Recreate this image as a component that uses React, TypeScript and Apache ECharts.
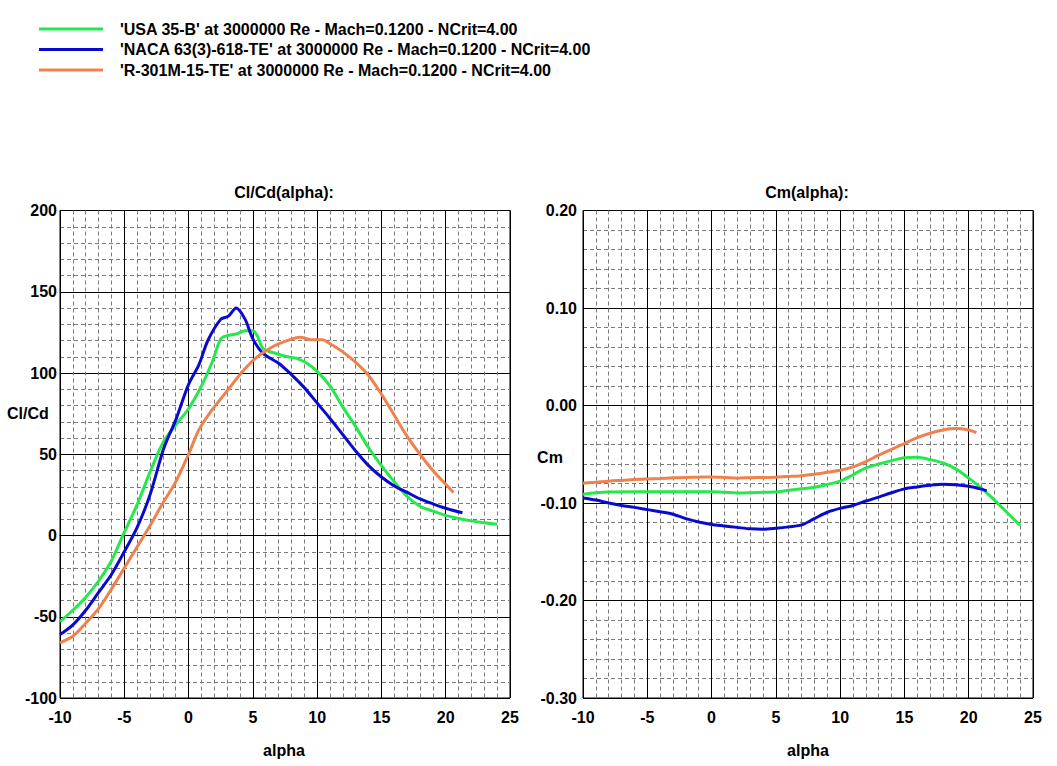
import React, { useEffect, useRef } from "react";
import * as echarts from "echarts";

const seriesNames = [
  "'USA 35-B' at 3000000 Re - Mach=0.1200 - NCrit=4.00",
  "'NACA 63(3)-618-TE' at 3000000 Re - Mach=0.1200 - NCrit=4.00",
  "'R-301M-15-TE' at 3000000 Re - Mach=0.1200 - NCrit=4.00",
];
const seriesColors = ["#24E84C", "#0A0ACF", "#F0814C"];

// Cl/Cd vs alpha
const alphaClCdUSA = [-10, -9, -8, -7, -6, -5, -4, -3, -2, -1, 0, 1, 1.8, 2.5, 3, 3.7, 4.4, 5, 5.4, 5.8, 6.8, 7.7, 8.4, 9.2, 10, 11, 12, 13, 14, 15, 16, 17, 18, 19, 20, 21, 22, 23, 24];
const clcdUSA = [-53, -46, -38, -28, -15.5, 2, 19, 39, 57, 68, 78, 92, 106, 121, 123, 124, 126, 126, 122, 115, 112, 110, 109, 106, 101, 92, 79, 67, 54, 43, 33, 24, 18, 15, 12.4, 10.5, 9, 7.8, 6.9];

const alphaClCdNACA = [-10, -9, -8, -7, -6, -5, -4, -3, -2, -1.5, -1, 0, 0.8, 1.5, 2.5, 3.1, 3.7, 4.4, 5, 5.8, 7, 8, 9, 10, 11, 12, 13, 14, 15, 16, 17, 18, 19, 20, 21.3];
const clcdNACA = [-61, -55, -46, -35, -24, -10, 5, 25, 52, 62, 71, 93, 105, 120, 133, 135, 140, 133, 121, 112, 106, 99, 91, 81.5, 72, 62, 52, 43, 36, 30.5, 26.5, 22.5, 19.5, 16.8, 14];

const alphaClCdR301 = [-10, -9, -8, -7, -6, -5, -4, -3, -2, -1, 0, 0.8, 1.8, 3.1, 4.1, 5.2, 6.5, 7.5, 8.7, 9.5, 10.4, 11, 12, 13, 14, 15, 16, 17, 18, 19, 20, 20.6];
const clcdR301 = [-66, -62, -54, -45, -33, -20, -7, 6, 20, 33, 50, 65, 77, 90, 100, 109, 116, 119.5, 122, 120.5, 120.5, 118, 113, 106.5, 98.5, 87, 74, 61, 50, 40, 31.5, 26.5];

// Cm vs alpha
const alphaCmUSA = [-10, -9, -8, -6, -4, -2, 0, 1, 2, 3, 4, 5, 6, 7, 8, 9, 10, 11, 12, 13, 14, 15, 16, 17, 18, 19, 20, 21, 22, 23, 24];
const cmUSA = [-0.091, -0.0895, -0.0888, -0.0885, -0.0885, -0.0885, -0.0885, -0.089, -0.0898, -0.0895, -0.089, -0.0888, -0.087, -0.0855, -0.0838, -0.081, -0.0775, -0.071, -0.064, -0.06, -0.0565, -0.0535, -0.053, -0.0555, -0.059, -0.065, -0.0745, -0.085, -0.097, -0.11, -0.123];

const alphaCmNACA = [-10, -9, -8, -7, -6, -5, -4, -3, -2, -1, 0, 1, 2, 3, 4, 5, 6, 7, 8, 9, 10, 11, 12, 13, 14, 15, 16, 17, 18, 19, 20, 21, 21.4];
const cmNACA = [-0.0949, -0.097, -0.1, -0.1025, -0.1045, -0.1068, -0.109, -0.1115, -0.116, -0.1195, -0.122, -0.1235, -0.125, -0.1265, -0.127, -0.126, -0.1245, -0.1225, -0.116, -0.1095, -0.1055, -0.1025, -0.098, -0.094, -0.0895, -0.0855, -0.0835, -0.0818, -0.0808, -0.0812, -0.0828, -0.0858, -0.0875];

const alphaCmR301 = [-10, -9, -8, -7, -6, -5, -4, -3, -2, -1, 0, 1, 2, 3, 4, 5, 6, 7, 8, 9, 10, 11, 12, 13, 14, 15, 16, 17, 18, 19, 20, 20.6];
const cmR301 = [-0.0797, -0.0788, -0.0776, -0.0768, -0.076, -0.0753, -0.0748, -0.0742, -0.0738, -0.0735, -0.0733, -0.0738, -0.0745, -0.074, -0.0738, -0.0735, -0.0728, -0.072, -0.0705, -0.0685, -0.0665, -0.063, -0.0575, -0.051, -0.045, -0.039, -0.033, -0.0285, -0.0252, -0.0237, -0.0252, -0.0278];

const zip = (xs: number[], ys: number[]) => xs.map((x, i) => [x, ys[i]]);

const FONT = "'Liberation Sans', Arial, sans-serif";

export default function App() {
  const ref = useRef<HTMLDivElement>(null);
  useEffect(() => {
    if (!ref.current) return;
    const chart = echarts.init(ref.current, undefined, { renderer: "svg" });
    const labelStyle = { color: "#000", fontFamily: FONT, fontWeight: "bold" as const, fontSize: 16 };
    const makeX = (gridIndex: number) => ({
      type: "value" as const,
      gridIndex,
      min: -10,
      max: 25,
      interval: 5,
      axisLine: { show: true, lineStyle: { color: "#000", width: 1 } },
      axisTick: { show: false },
      axisLabel: { ...labelStyle, margin: 11 },
      splitLine: { show: true, lineStyle: { color: "#000", width: 1 } },
      minorTick: { show: false, splitNumber: 5 },
      minorSplitLine: { show: true, lineStyle: { color: "#7a7a7a", width: 1, type: [4, 3] } },
    });
    const makeY = (gridIndex: number, min: number, max: number, interval: number, fmt: (v: number) => string, margin: number) => ({
      type: "value" as const,
      gridIndex,
      min,
      max,
      interval,
      axisLine: { show: true, lineStyle: { color: "#000", width: 1 } },
      axisTick: { show: false },
      axisLabel: { ...labelStyle, margin, formatter: fmt },
      splitLine: { show: true, lineStyle: { color: "#000", width: 1 } },
      minorTick: { show: false, splitNumber: 5 },
      minorSplitLine: { show: true, lineStyle: { color: "#7a7a7a", width: 1, type: [4, 3] } },
    });
    const lineSeries = (name: string, color: string, idx: number, data: number[][]) => ({
      type: "line" as const,
      name,
      xAxisIndex: idx,
      yAxisIndex: idx,
      data,
      showSymbol: false,
      symbol: "none",
      smooth: 0.3,
      lineStyle: { color, width: 3 },
      itemStyle: { color },
    });
    const textEl = (text: string, x: number, y: number, align: string) => ({
      type: "text",
      x,
      y,
      style: { text, fill: "#000", font: `bold 16px ${FONT}`, textAlign: align, textVerticalAlign: "middle" },
    });
    chart.setOption({
      animation: false,
      backgroundColor: "#fff",
      legend: {
        orient: "vertical",
        left: 39,
        top: 21,
        padding: 0,
        itemWidth: 64,
        itemHeight: 3,
        itemGap: 4.5,
        icon: "rect",
        data: seriesNames,
        textStyle: { ...labelStyle, lineHeight: 16, padding: [0, 0, 0, 12] },
      },
      grid: [
        { left: 60, top: 210.5, width: 450, height: 487.5, show: true, borderColor: "#000", borderWidth: 1, backgroundColor: "transparent" },
        { left: 583, top: 210.5, width: 450, height: 487.5, show: true, borderColor: "#000", borderWidth: 1, backgroundColor: "transparent" },
      ],
      xAxis: [makeX(0), makeX(1)],
      yAxis: [
        makeY(0, -100, 200, 50, (v: number) => String(Math.round(v)), 3),
        makeY(1, -0.3, 0.2, 0.1, (v: number) => (Math.abs(v) < 1e-9 ? "0.00" : v.toFixed(2)), 6),
      ],
      graphic: [
        textEl("Cl/Cd(alpha):", 284, 192, "center"),
        textEl("Cm(alpha):", 807, 192, "center"),
        textEl("Cl/Cd", 7, 413, "left"),
        textEl("Cm", 550, 457, "center"),
        textEl("alpha", 284, 750, "center"),
        textEl("alpha", 808, 750, "center"),
      ],
      series: [
        lineSeries(seriesNames[0], seriesColors[0], 0, zip(alphaClCdUSA, clcdUSA)),
        lineSeries(seriesNames[1], seriesColors[1], 0, zip(alphaClCdNACA, clcdNACA)),
        lineSeries(seriesNames[2], seriesColors[2], 0, zip(alphaClCdR301, clcdR301)),
        lineSeries(seriesNames[0], seriesColors[0], 1, zip(alphaCmUSA, cmUSA)),
        lineSeries(seriesNames[1], seriesColors[1], 1, zip(alphaCmNACA, cmNACA)),
        lineSeries(seriesNames[2], seriesColors[2], 1, zip(alphaCmR301, cmR301)),
      ],
    });
    return () => chart.dispose();
  }, []);
  return <div ref={ref} style={{ position: "fixed", left: 0, top: 0, width: 1057, height: 766, background: "#fff" }} />;
}
